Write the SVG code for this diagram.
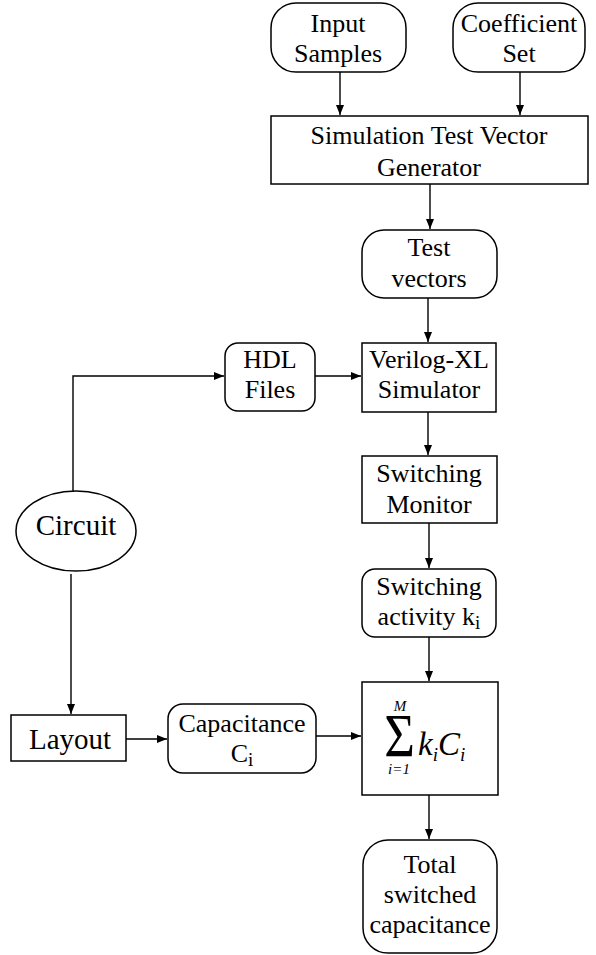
<svg xmlns="http://www.w3.org/2000/svg" width="596" height="955" viewBox="0 0 596 955">
<defs>
<marker id="ah" markerWidth="10" markerHeight="8" refX="10" refY="4" orient="auto" markerUnits="userSpaceOnUse">
<path d="M0,0 L10,4 L0,8 Z" fill="#000"/>
</marker>
<style>
.n{fill:#fff;stroke:#000;stroke-width:1.5}
.t{font-family:"Liberation Serif","Times New Roman",serif;font-size:26px;text-anchor:middle;fill:#000}
.c{fill:none;stroke:#000;stroke-width:1.4;marker-end:url(#ah)}
.it{font-family:"Liberation Serif","Times New Roman",serif;font-style:italic;fill:#000}
</style>
</defs>
<rect width="596" height="955" fill="#fff"/>
<g id="connectors">
<path class="c" d="M340,72 V115"/>
<path class="c" d="M520,72 V115"/>
<path class="c" d="M430,184 V229"/>
<path class="c" d="M428,298 V342"/>
<path class="c" d="M315,376 H361"/>
<path class="c" d="M73,491 V376 H224"/>
<path class="c" d="M428,412 V455"/>
<path class="c" d="M429,523 V568"/>
<path class="c" d="M429,637 V681"/>
<path class="c" d="M71,574 V714"/>
<path class="c" d="M126,739 H167"/>
<path class="c" d="M316,736 H361"/>
<path class="c" d="M429,795 V839"/>
</g>
<g id="input-samples">
<rect class="n" x="271" y="3" width="135" height="69" rx="25"/>
<text class="t" x="338" y="32">Input</text>
<text class="t" x="338" y="62">Samples</text>
</g>
<g id="coefficient-set">
<rect class="n" x="453" y="3" width="132" height="69" rx="25"/>
<text class="t" x="519" y="32">Coefficient</text>
<text class="t" x="519" y="62">Set</text>
</g>
<g id="simulation-generator">
<rect class="n" x="271" y="116" width="317" height="68"/>
<text class="t" x="429" y="144">Simulation Test Vector</text>
<text class="t" x="429" y="176">Generator</text>
</g>
<g id="test-vectors">
<rect class="n" x="362" y="230" width="135" height="68" rx="22"/>
<text class="t" x="429" y="256">Test</text>
<text class="t" x="429" y="287">vectors</text>
</g>
<g id="hdl-files">
<rect class="n" x="225" y="343" width="90" height="68" rx="13"/>
<text class="t" x="270" y="368">HDL</text>
<text class="t" x="270" y="398">Files</text>
</g>
<g id="verilog">
<rect class="n" x="362" y="343" width="134" height="69"/>
<text class="t" x="429" y="368">Verilog-XL</text>
<text class="t" x="429" y="398">Simulator</text>
</g>
<g id="circuit">
<ellipse class="n" cx="76" cy="531" rx="60" ry="40"/>
<text class="t" x="76" y="535" style="font-size:29px">Circuit</text>
</g>
<g id="switching-monitor">
<rect class="n" x="362" y="456" width="135" height="67"/>
<text class="t" x="429" y="482">Switching</text>
<text class="t" x="429" y="513">Monitor</text>
</g>
<g id="switching-activity">
<rect class="n" x="362" y="569" width="134" height="68" rx="13"/>
<text class="t" x="429" y="595">Switching</text>
<text class="t" x="429" y="625">activity k<tspan dy="4" font-size="19">i</tspan></text>
</g>
<g id="layout">
<rect class="n" x="11" y="715" width="115" height="46"/>
<text class="t" x="70" y="749" style="font-size:29px">Layout</text>
</g>
<g id="capacitance">
<rect class="n" x="168" y="704" width="148" height="69" rx="15"/>
<text class="t" x="242" y="732">Capacitance</text>
<text class="t" x="242" y="762">C<tspan dy="4" font-size="19">i</tspan></text>
</g>
<g id="sum">
<rect class="n" x="362" y="682" width="136" height="113"/>
<text transform="translate(399.5,756) scale(1.7,2)" style="font-family:'Liberation Serif','Times New Roman',serif;font-size:31px;text-anchor:middle">Σ</text>
<text class="it" x="400" y="711" style="font-size:15px;text-anchor:middle">M</text>
<text class="it" x="399" y="774" style="font-size:15px;text-anchor:middle">i=1</text>
<text class="it" x="418" y="755" style="font-size:33px">k<tspan dy="6" font-size="19">i</tspan><tspan dy="-6">C</tspan><tspan dy="6" font-size="19">i</tspan></text>
</g>
<g id="total-switched">
<rect class="n" x="363" y="840" width="134" height="113" rx="25"/>
<text class="t" x="430" y="873">Total</text>
<text class="t" x="430" y="903">switched</text>
<text class="t" x="430" y="933">capacitance</text>
</g>
</svg>
